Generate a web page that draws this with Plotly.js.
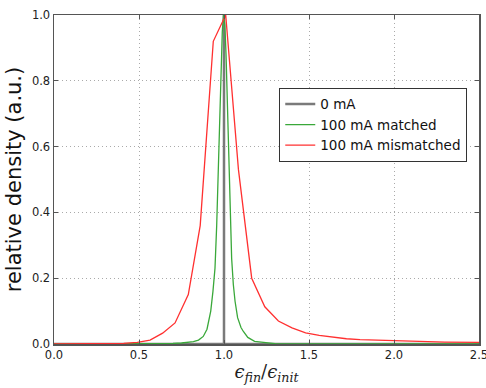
<!DOCTYPE html>
<html>
<head>
<meta charset="utf-8">
<script src="https://cdn.plot.ly/plotly-3.0.1.min.js"></script>
<style>html,body{margin:0;padding:0;background:#fff;}#chart{width:486px;height:388px;}</style>
</head>
<body>
<div id="chart"></div>
<script>
// 0 mA (delta at 1.0)
const grayX = [0.0, 1.0, 1.0, 1.0, 2.5];
const grayY = [0.0, 0.0, 1.0, 0.0, 0.0];

// 100 mA matched
const greenX = [0.0, 0.3, 0.5, 0.6, 0.7, 0.75, 0.8, 0.82, 0.85, 0.878, 0.9, 0.922, 0.935, 0.947, 0.957, 0.965, 0.973, 0.98, 0.99, 0.997,
                1.005, 1.012, 1.02, 1.027, 1.035, 1.045, 1.055, 1.065, 1.08, 1.1, 1.114, 1.14, 1.18, 1.25, 1.3, 1.4, 1.6, 2.0, 2.5];
const greenY = [0.0, 0.0, 0.0, 0.001, 0.002, 0.003, 0.005, 0.007, 0.012, 0.023, 0.045, 0.10, 0.16, 0.23, 0.36, 0.50, 0.70, 0.82, 0.95, 1.0,
                0.97, 0.88, 0.72, 0.58, 0.40, 0.26, 0.18, 0.13, 0.08, 0.05, 0.038, 0.02, 0.008, 0.003, 0.001, 0.0, 0.0, 0.0, 0.0];

// 100 mA mismatched
const redX = [0.0, 0.2, 0.34, 0.41, 0.49, 0.565, 0.639, 0.712, 0.79, 0.86, 0.937, 1.01,
              1.085, 1.163, 1.24, 1.32, 1.40, 1.48, 1.56, 1.64, 1.72, 1.80, 1.90, 2.0, 2.1, 2.2, 2.3, 2.4, 2.5];
const redY = [0.0, 0.0, 0.001, 0.002, 0.005, 0.012, 0.033, 0.064, 0.15, 0.36, 0.92, 1.0,
              0.53, 0.20, 0.113, 0.07, 0.049, 0.034, 0.026, 0.02, 0.016, 0.013, 0.011, 0.009, 0.008, 0.007, 0.006, 0.005, 0.005];

const xTicks = [0.0, 0.5, 1.0, 1.5, 2.0, 2.5];
const xTickText = ['0.0', '0.5', '1.0', '1.5', '2.0', '2.5'];
const yTicks = [0.0, 0.2, 0.4, 0.6, 0.8, 1.0];
const yTickText = ['0.0', '0.2', '0.4', '0.6', '0.8', '1.0'];

const traces = [
  {x: grayX, y: grayY, mode: 'lines', name: '0 mA', line: {color: '#7a7a7a', width: 2.5}},
  {x: greenX, y: greenY, mode: 'lines', name: '100 mA matched', line: {color: '#3aa83a', width: 1.3}},
  {x: redX, y: redY, mode: 'lines', name: '100 mA mismatched', line: {color: '#ff3030', width: 1.3}}
];

const axisCommon = {
  showline: true, mirror: 'ticks', linecolor: '#555', linewidth: 1.5,
  ticks: 'inside', ticklen: 4, tickcolor: '#555',
  showgrid: true, gridcolor: '#aaaaaa', griddash: '1px,3px', gridwidth: 1,
  zeroline: false, ticklabeloverflow: 'allow',
  tickfont: {family: 'DejaVu Sans', size: 11.5, color: '#222'}
};

const layout = {
  width: 486, height: 388,
  margin: {l: 54, r: 7, t: 15, b: 44},
  paper_bgcolor: '#fff', plot_bgcolor: '#fff',
  showlegend: true,
  legend: {x: 0.53, y: 0.779, xanchor: 'left', yanchor: 'top',
           bgcolor: '#fff', bordercolor: '#333', borderwidth: 1,
           font: {family: 'DejaVu Sans', size: 13.5, color: '#111'}, tracegroupgap: 0},
  xaxis: Object.assign({}, axisCommon, {range: [0, 2.5], tickvals: xTicks, ticktext: xTickText,
    title: {text: '<i>ϵ</i><sub><i>fin</i></sub>/<i>ϵ</i><sub><i>init</i></sub>', font: {family: 'DejaVu Serif', size: 18, color: '#222'}, standoff: 4}}),
  yaxis: Object.assign({}, axisCommon, {range: [0, 1.0], tickvals: yTicks, ticktext: yTickText,
    title: {text: 'relative density (a.u.)', font: {family: 'DejaVu Sans', size: 21, color: '#111'}, standoff: 4}})
};

Plotly.newPlot('chart', traces, layout, {displayModeBar: false, staticPlot: true});
</script>
</body>
</html>
